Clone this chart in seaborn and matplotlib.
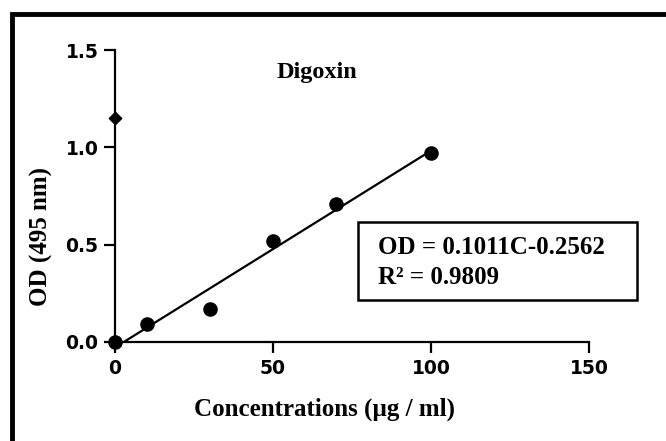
import matplotlib
matplotlib.use("Agg")
import matplotlib.pyplot as plt
import seaborn as sns
import pandas as pd
from matplotlib.patches import Rectangle

# Standard curve readings
conc = [0, 10, 30, 50, 70, 100]
od = [0.0, 0.09, 0.17, 0.52, 0.71, 0.97]
# marker sitting on the y axis
extra_conc = [0]
extra_od = [1.15]

xticks = [0, 50, 100, 150]
yticks = [0.0, 0.5, 1.0, 1.5]

sns.set_theme(style="ticks", rc={"text.color": "black", "axes.labelcolor": "black",
                                 "xtick.color": "black", "ytick.color": "black"})
df = pd.DataFrame({"conc": conc, "od": od})

fig = plt.figure(figsize=(6.66, 4.41), dpi=100)
ax = fig.add_axes([0.1727, 0.2245, 0.7117, 0.6621])

sns.regplot(data=df, x="conc", y="od", ax=ax, ci=None, color="black",
            scatter_kws={"s": 110, "alpha": 1, "clip_on": False, "zorder": 5, "linewidths": 0},
            line_kws={"lw": 1.6})
ax.scatter(extra_conc, extra_od, marker="D", s=40, color="black", clip_on=False, zorder=5)

ax.set_xlim(0, 150)
ax.set_ylim(0, 1.5)
ax.set_xticks(xticks)
ax.set_yticks(yticks)
ax.set_xticklabels([str(t) for t in xticks])
ax.set_yticklabels([f"{t:.1f}" for t in yticks])
for lab in ax.get_xticklabels() + ax.get_yticklabels():
    lab.set_fontfamily("DejaVu Sans")
    lab.set_fontweight("bold")
    lab.set_fontsize(13.5)
ax.tick_params(axis="both", length=8, width=1.6, color="black", pad=4)
for side in ["left", "bottom"]:
    ax.spines[side].set_linewidth(1.6)
    ax.spines[side].set_color("black")
sns.despine(ax=ax)

serif = dict(family="Liberation Serif", weight="bold", color="black")
ax.set_xlabel("Concentrations (µg / ml)", fontsize=18, **serif)
ax.set_ylabel("OD (495 nm)", fontsize=18, **serif)
ax.xaxis.set_label_coords(0.443, -0.19)
ax.yaxis.set_label_coords(-0.13, 0.36)
ax.text(64, 1.385, "Digoxin", ha="center", va="center", fontsize=17.5, **serif)

# equation box
fig.patches.append(Rectangle((358 / 666, 1 - 300 / 441), 279 / 666, 78 / 441,
                             transform=fig.transFigure, fill=False, ec="black", lw=1.8))
fig.text(378 / 666, 1 - 247 / 441, "OD = 0.1011C-0.2562", fontsize=18, va="center", **serif)
fig.text(378 / 666, 1 - 278 / 441, "R² = 0.9809", fontsize=18, va="center", **serif)

# outer frame (cut off at right/bottom like the original)
fig.patches.append(Rectangle((12 / 666, -0.05), 1.1, 1 - 14 / 441 + 0.05,
                             transform=fig.transFigure, fill=False, ec="black", lw=3.5))

fig.savefig("out.png", dpi=100)
